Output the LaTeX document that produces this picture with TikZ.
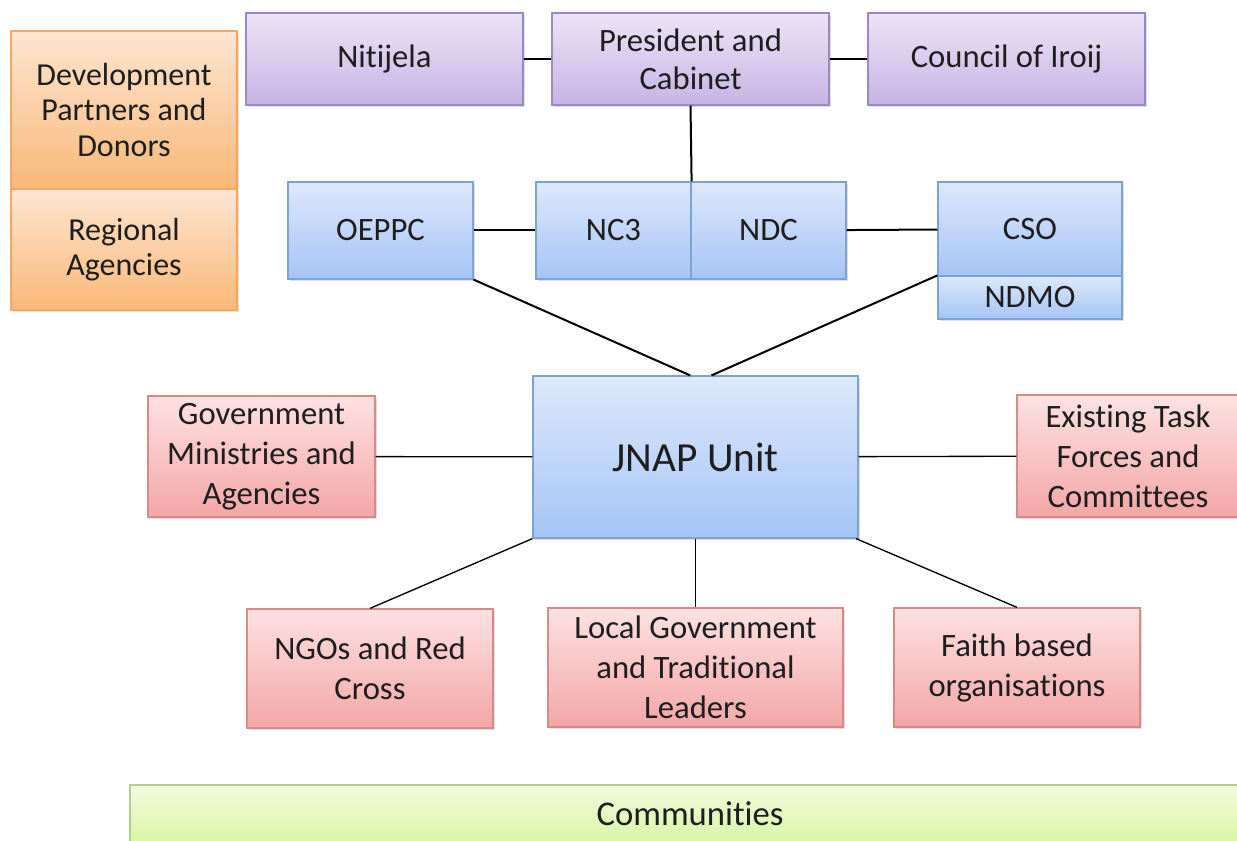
\documentclass[tikz,border=0pt]{standalone}
\usepackage{fontspec}
\setmainfont{Carlito}[RawFeature=-liga]
\usepackage{xcolor}
\usetikzlibrary{shadows}

\definecolor{purpletop}{HTML}{EDE4F7}
\definecolor{purplebot}{HTML}{C7B3E3}
\definecolor{purpleline}{HTML}{9B88C4}
\definecolor{bluetop}{HTML}{DDE9FB}
\definecolor{bluebot}{HTML}{A5C4F5}
\definecolor{blueline}{HTML}{7EA3D2}
\definecolor{orangetop}{HTML}{FDE6D3}
\definecolor{orangebot}{HTML}{F9B876}
\definecolor{orangeline}{HTML}{F2A964}
\definecolor{redtop}{HTML}{FDE2E2}
\definecolor{redbot}{HTML}{F4A6A6}
\definecolor{redline}{HTML}{D98A88}
\definecolor{greentop}{HTML}{F2FCDE}
\definecolor{greenbot}{HTML}{D7F5A2}
\definecolor{greenline}{HTML}{B5CF8A}
\definecolor{inktext}{HTML}{1E1E1E}

\tikzset{
  box/.style={draw, line width=0.9pt, inner sep=0pt, align=center, text=inktext,
    font=\fontsize{24.5}{30}\selectfont, shading=axis, shading angle=0,
    drop shadow={shadow xshift=1.2pt, shadow yshift=-1.2pt, opacity=0.25}},
  purplebox/.style={box, draw=purpleline, top color=purpletop, bottom color=purplebot},
  bluebox/.style={box, draw=blueline, top color=bluetop, bottom color=bluebot},
  orangebox/.style={box, draw=orangeline, top color=orangetop, bottom color=orangebot,
    font=\fontsize{24}{26.5}\selectfont},
  redbox/.style={box, draw=redline, top color=redtop, bottom color=redbot},
  greenbox/.style={box, draw=greenline, top color=greentop, bottom color=greenbot},
  thickline/.style={line width=1.5pt},
  thinline/.style={line width=1pt}
}

\begin{document}
\begin{tikzpicture}[x=0.75pt,y=0.75pt,yscale=-1,xscale=1]
\useasboundingbox (0,0) rectangle (1237,841);

% top row
\node [purplebox, minimum width=207.75pt, minimum height=69pt] (nitijela) at (384.5,59) {Nitijela};
\node [purplebox, minimum width=207.75pt, minimum height=69pt, font=\fontsize{24.5}{28.5}\selectfont] (president) at (690.5,59) {President and\\Cabinet};
\node [purplebox, minimum width=207.75pt, minimum height=69pt] (iroij) at (1006.5,59) {Council of Iroij};

% partners on the left
\node [orangebox, minimum width=169.5pt, minimum height=118.5pt] (partners) at (124,110) {Development\\Partners and\\Donors};
\node [orangebox, minimum width=169.5pt, minimum height=90.75pt] (regional) at (124,249.5) {Regional\\Agencies};

% second row
\node [bluebox, minimum width=138.75pt, minimum height=72.75pt] (oeppc) at (380.5,230.5) {OEPPC};
\node [bluebox, minimum width=116.25pt, minimum height=72.75pt] (nc3) at (613.5,230.5) {NC3};
\node [bluebox, minimum width=116.25pt, minimum height=72.75pt] (ndc) at (768.5,230.5) {NDC};
\node [bluebox, minimum width=138pt, minimum height=70.5pt] (cso) at (1030,229) {\raisebox{-2pt}{CSO}};
\node [bluebox, minimum width=138pt, minimum height=32.25pt] (ndmo) at (1030,297.5) {NDMO};

% JNAP unit and partners
\node [bluebox, minimum width=243.75pt, minimum height=121.5pt, font=\fontsize{31}{36}\selectfont] (jnap) at (695.5,457) {JNAP Unit};
\node [redbox, minimum width=170.25pt, minimum height=90.75pt] (ministries) at (261.5,456.5) {Government\\Ministries and\\Agencies};
\node [redbox, minimum width=166.5pt, minimum height=91.5pt] (taskforces) at (1128,456) {Existing Task\\Forces and\\Committees};
\node [redbox, minimum width=184.5pt, minimum height=89.25pt] (ngos) at (370,668.5) {NGOs and Red\\Cross};
\node [redbox, minimum width=221.25pt, minimum height=89.25pt] (localgov) at (695.5,667.5) {Local Government\\and Traditional\\Leaders};
\node [redbox, minimum width=184.5pt, minimum height=89.25pt] (faith) at (1017,667.5) {Faith based\\organisations};

% communities
\node [greenbox, minimum width=840pt, minimum height=45pt, font=\fontsize{26}{30}\selectfont] (communities) at (690,815) {\raisebox{2pt}{Communities}};

% connectors
\draw [thickline] (nitijela) -- (president);
\draw [thickline] (president) -- (iroij);
\draw [thickline] (president.south) -- (nc3.north east);
\draw [thickline] (oeppc) -- (nc3);
\draw [thickline] (ndc) -- (cso);
\draw [thickline] (oeppc.south east) -- ([xshift=-4pt]jnap.north);
\draw [thickline] (ndmo.north west) -- ([xshift=12pt]jnap.north);
\draw [thinline] (ministries) -- (jnap);
\draw [thinline] (jnap) -- (taskforces);
\draw [thinline] (jnap.south west) -- (ngos.north);
\draw [thinline] (jnap.south) -- (localgov.north);
\draw [thinline] ([xshift=-2pt]jnap.south east) -- (faith.north);

\end{tikzpicture}
\end{document}
